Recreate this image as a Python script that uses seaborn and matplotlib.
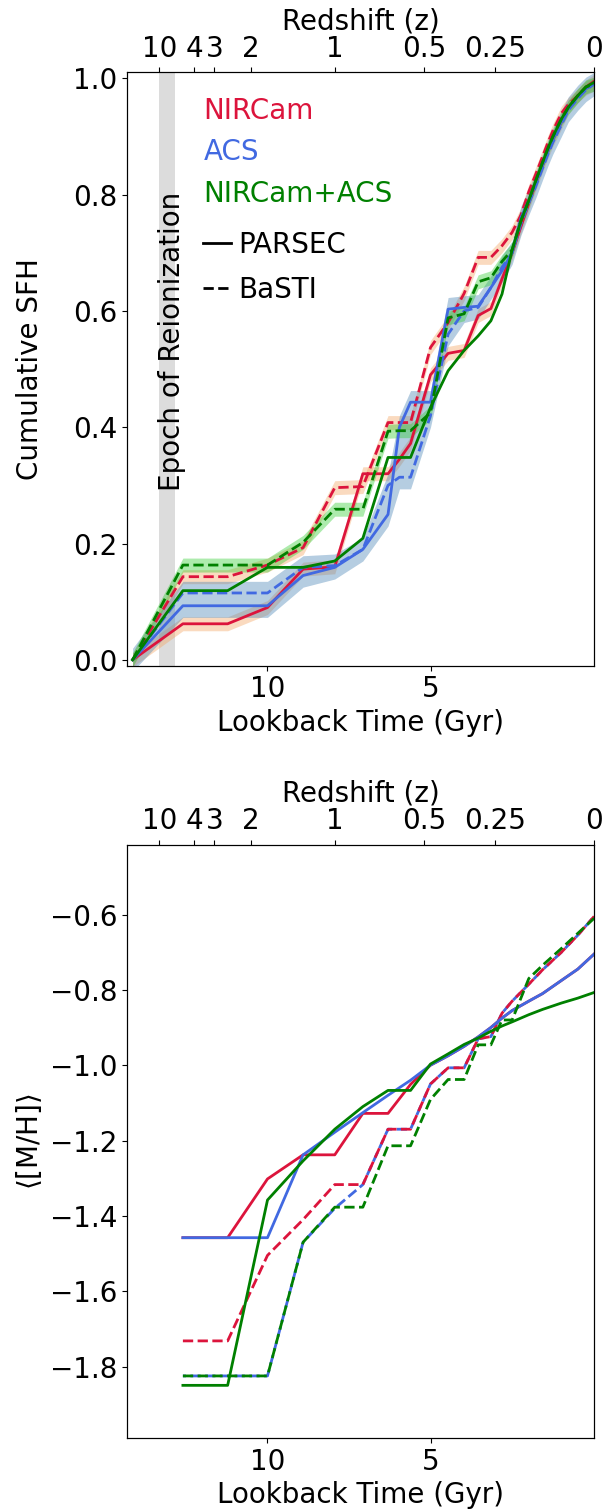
import matplotlib
matplotlib.use("Agg")
import matplotlib.pyplot as plt
import seaborn as sns
import numpy as np
from matplotlib.lines import Line2D

# ------------------------------
# Data
# ------------------------------
# lookback time grid (Gyr) for the cumulative SFH
t_sfh = [14.13, 12.59, 11.22, 10.0, 8.91, 7.94, 7.08, 6.31, 5.96, 5.62, 5.01, 4.47, 3.98, 3.55,
         3.16, 2.82, 2.51, 2.24, 2.0, 1.78, 1.58, 1.41, 1.26, 1.0, 0.79, 0.5, 0.25, 0.0]

sfh_nircam_parsec = [0.0, 0.062, 0.062, 0.090, 0.156, 0.160, 0.320, 0.320, 0.345, 0.372, 0.490, 0.527, 0.532, 0.592,
                     0.604, 0.655, 0.700, 0.745, 0.785, 0.820, 0.850, 0.875, 0.895, 0.925, 0.950, 0.970, 0.985, 0.995]
sfh_nircam_basti = [0.0, 0.143, 0.143, 0.163, 0.193, 0.296, 0.298, 0.408, 0.408, 0.408, 0.537, 0.580, 0.630, 0.692,
                    0.692, 0.712, 0.735, 0.765, 0.805, 0.836, 0.865, 0.890, 0.910, 0.940, 0.955, 0.970, 0.983, 0.990]
sfh_acs_parsec = [0.0, 0.093, 0.093, 0.093, 0.145, 0.159, 0.190, 0.250, 0.400, 0.443, 0.443, 0.603, 0.606, 0.608,
                  0.640, 0.669, 0.700, 0.760, 0.790, 0.820, 0.850, 0.875, 0.895, 0.925, 0.948, 0.968, 0.982, 0.990]
sfh_acs_basti = [0.0, 0.115, 0.115, 0.115, 0.159, 0.162, 0.190, 0.300, 0.314, 0.314, 0.420, 0.560, 0.600, 0.606,
                 0.640, 0.675, 0.700, 0.750, 0.785, 0.815, 0.845, 0.870, 0.890, 0.920, 0.945, 0.965, 0.980, 0.990]
sfh_comb_parsec = [0.0, 0.119, 0.119, 0.159, 0.159, 0.170, 0.209, 0.348, 0.348, 0.348, 0.434, 0.497, 0.532, 0.557,
                   0.583, 0.629, 0.705, 0.755, 0.790, 0.825, 0.855, 0.880, 0.900, 0.930, 0.950, 0.970, 0.985, 0.993]
sfh_comb_basti = [0.0, 0.163, 0.163, 0.163, 0.202, 0.259, 0.259, 0.393, 0.394, 0.394, 0.425, 0.588, 0.595, 0.650,
                  0.657, 0.685, 0.705, 0.755, 0.790, 0.825, 0.855, 0.880, 0.900, 0.930, 0.950, 0.970, 0.985, 0.990]
sfh_err = 0.012
sfh_err_acs = 0.02

# lookback time grid (Gyr) for the mean metallicity
t_mh = [12.59, 11.22, 10.0, 8.91, 7.94, 7.08, 6.31, 5.62, 5.01, 4.47, 3.98, 3.55, 3.16, 2.82, 2.51,
        2.0, 1.58, 1.0, 0.5, 0.0]

mh_nircam_parsec = [-1.458, -1.458, -1.302, -1.238, -1.238, -1.128, -1.128, -1.051, -1.000, -0.975, -0.950, -0.925,
                    -0.900, -0.875, -0.855, -0.830, -0.810, -0.775, -0.745, -0.705]
mh_nircam_basti = [-1.732, -1.732, -1.505, -1.410, -1.317, -1.317, -1.170, -1.170, -1.050, -1.007, -1.007, -0.930,
                   -0.924, -0.862, -0.830, -0.785, -0.747, -0.700, -0.655, -0.605]
mh_acs_parsec = [-1.458, -1.458, -1.458, -1.238, -1.178, -1.126, -1.080, -1.040, -1.000, -0.975, -0.950, -0.925,
                 -0.900, -0.875, -0.855, -0.830, -0.810, -0.775, -0.745, -0.705]
mh_acs_basti = [-1.825, -1.825, -1.825, -1.470, -1.380, -1.317, -1.170, -1.170, -1.050, -1.007, -1.007, -0.930,
                -0.924, -0.862, -0.830, -0.785, -0.747, -0.700, -0.655, -0.605]
mh_comb_parsec = [-1.850, -1.850, -1.358, -1.254, -1.170, -1.110, -1.067, -1.067, -0.997, -0.970, -0.945, -0.928,
                  -0.910, -0.896, -0.885, -0.866, -0.852, -0.835, -0.822, -0.807]
mh_comb_basti = [-1.825, -1.825, -1.825, -1.470, -1.377, -1.377, -1.214, -1.214, -1.091, -1.038, -1.038, -0.946,
                 -0.946, -0.880, -0.880, -0.770, -0.735, -0.690, -0.650, -0.610]
mh_ticks = [-1.8, -1.6, -1.4, -1.2, -1.0, -0.8, -0.6]

# redshift axis: labels and their lookback times
z_labels = ['10', '4', '3', '2', '1', '0.5', '0.25', '0']
z_lookback = [13.31, 12.24, 11.63, 10.51, 7.93, 5.20, 3.03, 0.0]
reion = (12.83, 13.32)

instruments = ['NIRCam', 'ACS', 'NIRCam+ACS']
models = ['PARSEC', 'BaSTI']

# ------------------------------
# Style
# ------------------------------
RED, BLUE, GREEN = 'crimson', 'royalblue', 'green'
DASH = (0, (3.7, 1.6))
DASH_SHIFT = (2.6, (3.7, 1.6))
plt.rcParams['font.size'] = 20
plt.rcParams['font.family'] = ['DejaVu Sans']

fig, (ax1, ax2) = plt.subplots(2, 1, figsize=(6.05, 15.09), dpi=100)
fig.subplots_adjust(left=0.21, right=0.982, top=0.952, bottom=0.047, hspace=0.302)

# ------------------------------
# Top panel: cumulative SFH
# ------------------------------
t = np.array(t_sfh)
ax1.axvspan(*reion, color='#dcdcdc', lw=0, zorder=0)
ax1.text(12.93, 0.29, 'Epoch of Reionization', rotation=90, ha='center', va='bottom')

ax1.fill_between(t, np.array(sfh_nircam_parsec) - sfh_err, np.array(sfh_nircam_parsec) + sfh_err,
                 color='sandybrown', alpha=0.4, lw=0)
ax1.fill_between(t, np.array(sfh_nircam_basti) - sfh_err, np.array(sfh_nircam_basti) + sfh_err,
                 color='sandybrown', alpha=0.4, lw=0)
acs_lo = np.minimum(sfh_acs_parsec, sfh_acs_basti) - sfh_err_acs
acs_hi = np.maximum(sfh_acs_parsec, sfh_acs_basti) + sfh_err_acs
ax1.fill_between(t, acs_lo, acs_hi, color='steelblue', alpha=0.4, lw=0)
ax1.fill_between(t, np.array(sfh_comb_basti) - sfh_err, np.array(sfh_comb_basti) + sfh_err,
                 color='limegreen', alpha=0.4, lw=0)

sfh_lines = [
    (sfh_nircam_parsec, RED, '-'), (sfh_nircam_basti, RED, DASH),
    (sfh_acs_parsec, BLUE, '-'), (sfh_acs_basti, BLUE, DASH),
    (sfh_comb_parsec, GREEN, '-'), (sfh_comb_basti, GREEN, DASH),
]
for vals, c, ls in sfh_lines:
    sns.lineplot(x=t_sfh, y=vals, ax=ax1, color=c, linestyle=ls, lw=2, estimator=None, sort=False)

ax1.set_ylim(-0.01, 1.01)
ax1.set_ylabel('Cumulative SFH')

leg1 = ax1.legend([Line2D([], [], lw=0) for _ in instruments], instruments,
                  labelcolor=[RED, BLUE, GREEN], handlelength=0, handletextpad=0,
                  frameon=False, loc='upper left', bbox_to_anchor=(0.11, 1.0), labelspacing=0.47)
ax1.add_artist(leg1)
ax1.legend([Line2D([], [], color='k', lw=2, ls='-'), Line2D([], [], color='k', lw=2, ls='--')], models,
           frameon=False, loc='upper left', bbox_to_anchor=(0.11, 0.775), handlelength=1.0,
           handletextpad=0.25, labelspacing=0.6)

# ------------------------------
# Bottom panel: mean metallicity
# ------------------------------
mh_lines = [
    (mh_acs_basti, BLUE, DASH_SHIFT), (mh_nircam_parsec, RED, '-'), (mh_nircam_basti, RED, DASH),
    (mh_acs_parsec, BLUE, '-'), (mh_comb_parsec, GREEN, '-'), (mh_comb_basti, GREEN, DASH),
]
for vals, c, ls in mh_lines:
    sns.lineplot(x=t_mh, y=vals, ax=ax2, color=c, linestyle=ls, lw=2, estimator=None, sort=False)

ax2.set_ylim(-1.99, -0.415)
ax2.set_yticks(mh_ticks)
ax2.set_ylabel(r'$\langle$[M/H]$\rangle$')

# ------------------------------
# Shared x axes + redshift on top
# ------------------------------
for ax in (ax1, ax2):
    ax.set_xlim(14.3, 0)
    ax.set_xticks([10, 5])
    ax.set_xlabel('Lookback Time (Gyr)')
    top = ax.twiny()
    top.set_xlim(ax.get_xlim())
    top.set_xticks(z_lookback)
    top.set_xticklabels(z_labels)
    top.set_xlabel('Redshift (z)')

fig.align_ylabels([ax1, ax2])
fig.savefig('out.png', dpi=100)
